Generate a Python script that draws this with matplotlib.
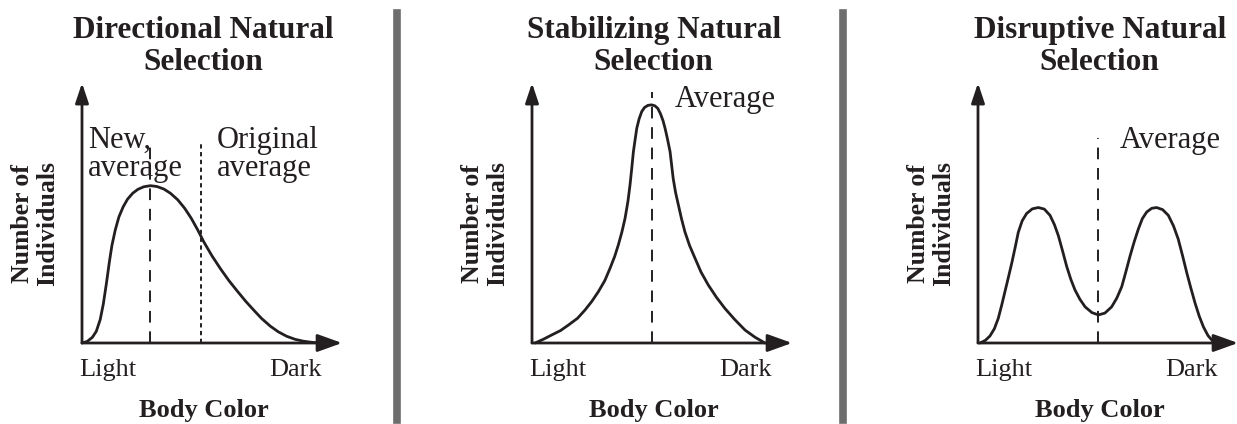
import matplotlib
matplotlib.use("Agg")
import matplotlib.pyplot as plt
from matplotlib.lines import Line2D

plt.rcParams["font.family"] = ["Liberation Serif", "DejaVu Serif"]

INK = "#231f20"

# -----------------------------
# Data (body colour 0 = light, 100 = dark; height in arbitrary units)
# -----------------------------
titles = ["Directional Natural\nSelection",
          "Stabilizing Natural\nSelection",
          "Disruptive Natural\nSelection"]

dir_x = [0, 2, 4, 5.5, 7, 8.2, 9.4, 10.5, 11.5, 12.8, 14.2, 15.8, 17.5,
         19.5, 21.5, 23.8, 26.3, 28.8, 31.5, 34, 36.8, 39.5, 42, 44.5, 46.9,
         50, 53.3, 56.5, 59.7, 63, 66, 69, 72.4, 75.5, 78.7, 82, 85.1, 88,
         90.2]
dir_y = [0, 0.6, 2.2, 4.5, 9, 15, 23, 31, 37.5, 43.5, 48.5, 52.3, 55.3,
         57.6, 59.1, 60.1, 60.5, 60.2, 59.2, 57.6, 55.1, 51.8, 48, 43.5, 38.8,
         33.5, 28.5, 24, 20, 16, 12.7, 9.5, 6.5, 4.3, 2.6, 1.4, 0.7, 0.3,
         0.1]

stab_x = [1.2, 4.5, 7.6, 11, 14, 17.5, 20.4, 23, 25.5, 28, 30, 31.8, 33.2,
          34.6, 35.8, 36.9, 37.7, 38.4, 39.0, 39.7, 40.3, 41.2, 42.2, 43.3,
          44.6, 46.0, 47.3, 48.4, 49.4, 50.4, 51.2, 52.1, 53.1, 53.7, 54.3,
          55.2, 56.3, 57.5, 58.8, 60.6, 62.7, 65, 67.8, 71, 74.2, 78, 81.9,
          85.8, 89.6]
stab_y = [0, 1.5, 3.1, 4.8, 6.9, 9.5, 12.7, 16, 19.7, 24, 28.7, 33.3, 37.7,
          42.8, 48.0, 54.5, 60.8, 67.5, 73.6, 78.5, 82.6, 86.2, 89.0, 90.6,
          91.4, 91.6, 91.2, 90.2, 88.2, 85.5, 82.5, 78.5, 73.6, 68.5, 63.3,
          58, 53.1, 47.8, 42.8, 37.5, 32.6, 27.3, 22.3, 17.5, 13.3, 9, 5.0,
          2.2, 0]

disr_x = [0.8, 2.8, 4.6, 6.3, 7.8, 9.1, 10.4, 11.7, 13.0, 14.3, 15.5, 17.0,
          18.7, 20.9, 23.2, 25.5, 27.7, 29.4, 30.9, 32.5, 34.1, 35.7, 37.3,
          39.2, 41.2, 43.8, 46.3, 48.8, 51.4, 53.4, 55.3, 56.9, 58.5, 60.1,
          61.7, 63.2, 64.9, 66.8, 68.7, 71.0, 73.2, 75.2, 77.0, 78.7, 80.3,
          81.9, 83.5, 85.1, 86.7, 88.5, 90.5, 92]
disr_y = [0, 1, 2.7, 5.5, 9.5, 14.5, 19.9, 25.3, 30.8, 36.8, 42.6, 47, 49.8,
          51.6, 52.1, 51.5, 49.1, 45.5, 41.3, 35.5, 29.5, 24.5, 20.4, 16.8,
          13.9, 11.7, 10.8, 11.5, 13.9, 17.3, 21.7, 27.5, 33.5, 39, 43.9,
          47.8, 50.4, 51.8, 52.1, 51.3, 49.1, 45, 40.0, 33.5, 27.0, 21, 15.3,
          10.3, 6.2, 2.8, 0.5, 0]

curves_x = [dir_x, stab_x, disr_x]
curves_y = [dir_y, stab_y, disr_y]

# average markers: position and top of the dashed line
new_avg = 26.3
orig_avg = 45.8
avg_pos = [new_avg, 46.2, 46.2]
avg_tops = [77.3, 96.5, 78.8]

# -----------------------------
# Figure
# -----------------------------
fig = plt.figure(figsize=(12.37, 4.24), dpi=100)
W, H = 1237, 424
lefts = [82, 532, 978]

axes = []
for left in lefts:
    ax = fig.add_axes([left / W, (H - 343) / H, 260 / W, 260 / H])
    ax.set_xlim(0, 100)
    ax.set_ylim(0, 100)
    ax.axis("off")
    axes.append(ax)

for i, ax in enumerate(axes):
    # axes drawn as arrows
    ax.annotate("", xy=(100, 0), xytext=(0, 0),
                arrowprops=dict(arrowstyle="-|>,head_length=0.75,head_width=0.27",
                                mutation_scale=20, lw=2.0, color=INK,
                                shrinkA=0, shrinkB=0),
                annotation_clip=False)
    ax.annotate("", xy=(0, 100), xytext=(0, 0),
                arrowprops=dict(arrowstyle="-|>,head_length=0.6,head_width=0.2",
                                mutation_scale=20, lw=2.0, color=INK,
                                shrinkA=0, shrinkB=0),
                annotation_clip=False)

    ax.plot(curves_x[i], curves_y[i], color=INK, lw=2.0,
            solid_joinstyle="round", solid_capstyle="round", clip_on=False)

    ax.plot([avg_pos[i], avg_pos[i]], [0, avg_tops[i]], color=INK, lw=1.4,
            dashes=(6, 4.5))

    ax.text(46.8, 114, titles[i], ha="center", va="center", fontsize=22.5,
            fontweight="bold", color=INK, linespacing=1.1)
    ax.text(-18, 46, "Number of\nIndividuals", ha="center", va="center",
            rotation=90, fontsize=18.5, fontweight="bold", color=INK,
            linespacing=1.1)
    ax.text(10, -10.4, "Light", ha="center", va="center", fontsize=19,
            color=INK)
    ax.text(82, -10.4, "Dark", ha="center", va="center", fontsize=19,
            color=INK)
    ax.text(47, -25.8, "Body Color", ha="center", va="center", fontsize=19,
            fontweight="bold", color=INK)

# panel-specific annotations
ax1, ax2, ax3 = axes
ax1.plot([orig_avg, orig_avg], [0, avg_tops[0]], color=INK, lw=1.4,
         dashes=(2.2, 1.8))
ax1.text(2.3, 72.5, "New,\naverage", ha="left", va="center", fontsize=22,
         color=INK, linespacing=0.95)
ax1.text(52, 72.5, "Original\naverage", ha="left", va="center", fontsize=22,
         color=INK, linespacing=0.95)
ax2.text(55, 93.5, "Average", ha="left", va="center", fontsize=22, color=INK)
ax3.text(54.6, 78, "Average", ha="left", va="center", fontsize=22, color=INK)

# grey separators between panels
for sx in [397, 843]:
    fig.add_artist(Line2D([sx / W, sx / W], [(H - 420) / H, (H - 13) / H],
                          transform=fig.transFigure, color="#6d6d6d", lw=5.5))

plt.savefig("out.png", dpi=100)
